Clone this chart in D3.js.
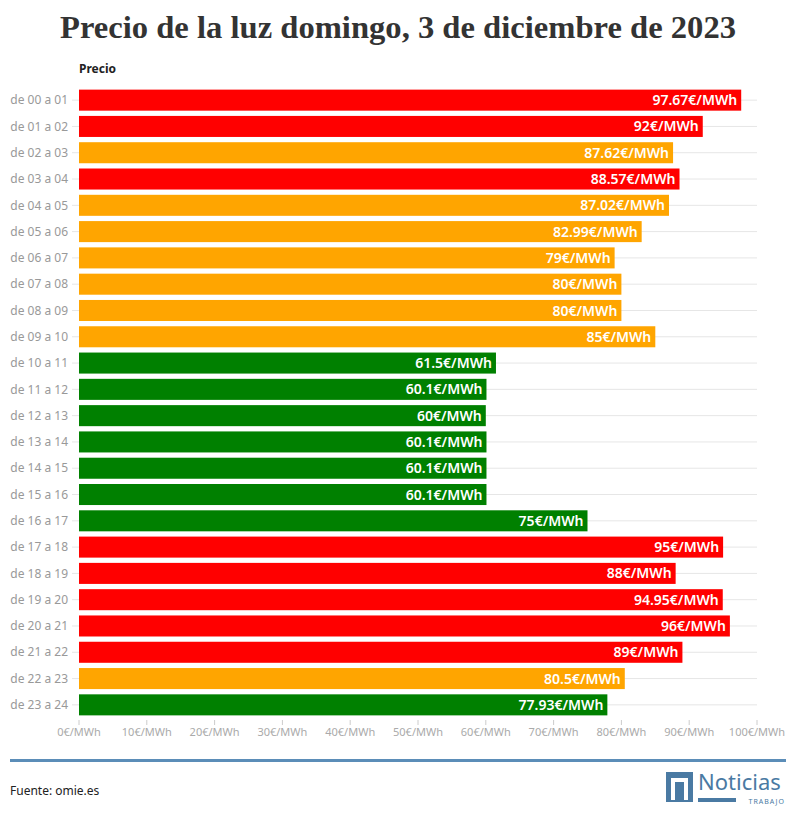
<!DOCTYPE html>
<html><head><meta charset="utf-8">
<script src="https://cdn.jsdelivr.net/npm/d3@7"></script>
<style>body{margin:0;background:#fff;font-family:"Source Sans Pro","Noto Sans",sans-serif}</style>
</head><body><div id="chart"></div>
<script>
var hours = ["de 00 a 01","de 01 a 02","de 02 a 03","de 03 a 04","de 04 a 05","de 05 a 06","de 06 a 07","de 07 a 08","de 08 a 09","de 09 a 10","de 10 a 11","de 11 a 12","de 12 a 13","de 13 a 14","de 14 a 15","de 15 a 16","de 16 a 17","de 17 a 18","de 18 a 19","de 19 a 20","de 20 a 21","de 21 a 22","de 22 a 23","de 23 a 24"];
var prices = [97.67,92,87.62,88.57,87.02,82.99,79,80,80,85,61.5,60.1,60,60.1,60.1,60.1,75,95,88,94.95,96,89,80.5,77.93];
var levels = ["alto","alto","medio","alto","medio","medio","medio","medio","medio","medio","bajo","bajo","bajo","bajo","bajo","bajo","bajo","alto","alto","alto","alto","alto","medio","bajo"];
var xTicks = [0,10,20,30,40,50,60,70,80,90,100];
var levelColors = {alto:"#ff0000", medio:"#ffa500", bajo:"#008000"};

var W = 796, H = 820;
var svg = d3.select("#chart").append("svg").attr("width", W).attr("height", H);
var font = "'Noto Sans', sans-serif";

svg.append("text").attr("x", W/2).attr("y", 38).attr("text-anchor","middle")
  .attr("font-family","'Liberation Serif', 'DejaVu Serif', serif").attr("font-weight","bold")
  .attr("font-size", 32).attr("fill","#333")
  .attr("textLength", 676).attr("lengthAdjust","spacingAndGlyphs")
  .text("Precio de la luz domingo, 3 de diciembre de 2023");

var x = d3.scaleLinear().domain([0,100]).range([79,757]);
var y = d3.scaleBand().domain(hours).range([87,718]).paddingInner(0.2).paddingOuter(0.1);

svg.append("text").attr("x",79).attr("y",73).attr("font-family",font).attr("font-weight","bold")
  .attr("font-size",12).attr("fill","#222").text("Precio");

// row gridlines
svg.append("g").selectAll("line").data(hours).join("line")
  .attr("x1",72).attr("x2",757)
  .attr("y1",d=>y(d)+y.bandwidth()/2).attr("y2",d=>y(d)+y.bandwidth()/2)
  .attr("stroke","#e6e6e6");

svg.append("g").selectAll("text").data(hours).join("text")
  .attr("x",68).attr("y",d=>y(d)+y.bandwidth()/2).attr("dy","0.35em")
  .attr("text-anchor","end").attr("font-family",font).attr("font-size",12)
  .attr("fill","#999").text(d=>d);

svg.append("g").selectAll("rect").data(prices).join("rect")
  .attr("x",x(0)).attr("y",(d,i)=>y(hours[i])).attr("height",y.bandwidth())
  .attr("width",d=>x(d)-x(0)).attr("fill",(d,i)=>levelColors[levels[i]]);

svg.append("g").selectAll("text").data(prices).join("text")
  .attr("x",d=>x(d)-4).attr("y",(d,i)=>y(hours[i])+y.bandwidth()/2).attr("dy","0.36em")
  .attr("text-anchor","end").attr("font-family",font).attr("font-weight",600)
  .attr("font-size",14).attr("fill","#fff").text(d=>d+"€/MWh");

// x axis
var ax = svg.append("g").attr("transform","translate(0,720)");
ax.selectAll("line").data(xTicks).join("line").attr("x1",d=>x(d)).attr("x2",d=>x(d))
  .attr("y1",0).attr("y2",5).attr("stroke","#ccc");
ax.selectAll("text").data(xTicks).join("text").attr("x",d=>x(d)).attr("y",16)
  .attr("text-anchor","middle").attr("font-family",font).attr("font-size",11)
  .attr("fill","#aaa").text(d=>d+"€/MWh");

svg.append("rect").attr("x",10).attr("y",759).attr("width",776).attr("height",3).attr("fill","#5b8db8");
svg.append("text").attr("x",10).attr("y",795).attr("font-family",font).attr("font-size",12)
  .attr("fill","#222").text("Fuente: omie.es");

// logo
var lg = svg.append("g");
lg.append("rect").attr("x",666).attr("y",772).attr("width",27).attr("height",30).attr("fill","#4a7aa3");
lg.append("path").attr("d","M673,800 V780 H686 V800").attr("fill","none").attr("stroke","#fff").attr("stroke-width",4);
lg.append("text").attr("x",698).attr("y",790).attr("font-family",font).attr("font-size",22)
  .attr("fill","#4a7aa3").text("Noticias");
lg.append("rect").attr("x",698).attr("y",798).attr("width",38).attr("height",4).attr("fill","#4a7aa3");
lg.append("text").attr("x",785).attr("y",804).attr("text-anchor","end").attr("font-family",font)
  .attr("font-size",7).attr("letter-spacing",1).attr("fill","#4a7aa3").text("TRABAJO");
</script></body></html>
